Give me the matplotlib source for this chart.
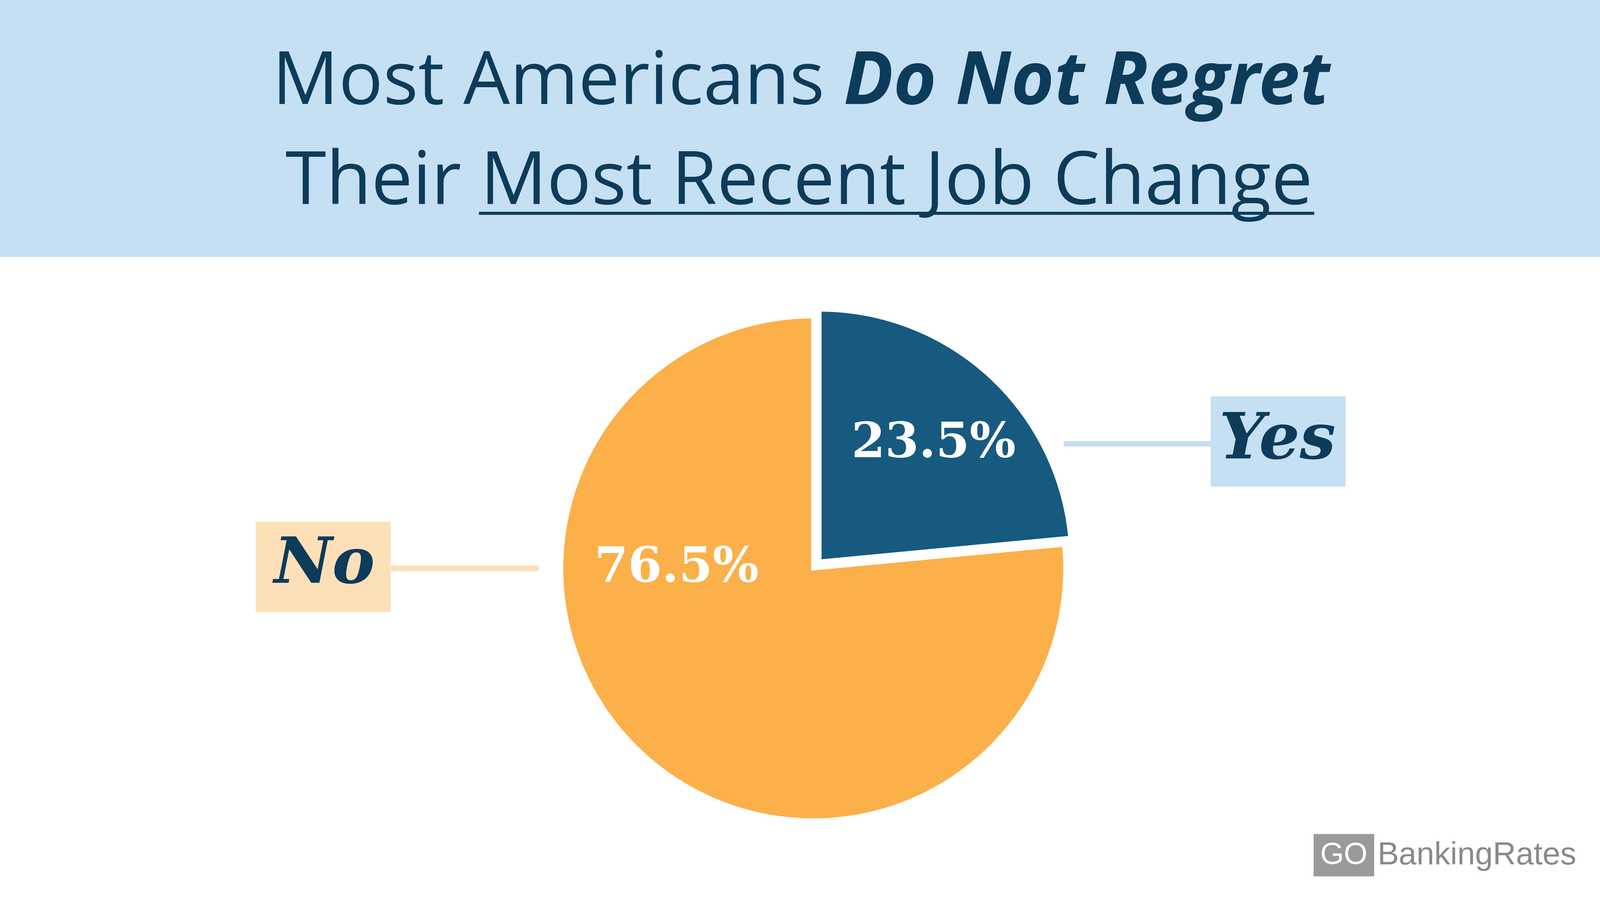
import matplotlib.pyplot as plt
from matplotlib.patches import Rectangle

answers = ["Yes", "No"]
shares = [23.5, 76.5]
share_labels = ["23.5%", "76.5%"]

NAVY = "#0d3b5a"
BLUE = "#175a80"
ORANGE = "#fbb04a"
LIGHT_BLUE = "#c5e0f2"
PEACH = "#fde0b8"
W, H = 1568, 882

fig = plt.figure(figsize=(16, 9), dpi=500)
ax = fig.add_axes([0, 0, 1, 1])
ax.set_xlim(0, W)
ax.set_ylim(0, H)
ax.axis("off")


def Y(y):
    return H - y


# header band
ax.add_patch(Rectangle((0, Y(251)), W, 251, color=LIGHT_BLUE, zorder=0))

fig.canvas.draw()
renderer = fig.canvas.get_renderer()
px = fig.dpi * 16 / W  # display px per data px


def run_line(parts, y, cx):
    texts = []
    for s, style, weight in parts:
        t = ax.text(0, Y(y), s, fontsize=53, family="Open Sans", style=style,
                    weight=weight, color=NAVY, va="baseline")
        texts.append(t)
    widths = [t.get_window_extent(renderer).width / px for t in texts]
    x = cx - sum(widths) / 2
    starts = []
    for t, w in zip(texts, widths):
        t.set_x(x)
        starts.append((x, w))
        x += w
    return starts


run_line([("Most Americans ", "normal", "normal"),
          ("Do Not Regret", "italic", "bold")], 102, 785)
pos = run_line([("Their ", "normal", "normal"),
                ("Most Recent Job Change", "normal", "normal")], 200, 783)
ux, uw = pos[1]
ax.plot([ux, ux + uw], [Y(209), Y(209)], color=NAVY, lw=2.2, zorder=3)

# pie (explode is in data units here, not radius fractions)
wedges, _ = ax.pie(shares, colors=[BLUE, ORANGE], startangle=90, counterclock=False,
                   center=(797, Y(557)), radius=247, explode=[9, 0],
                   wedgeprops=dict(edgecolor="white", linewidth=3), frame=True)
ax.set_xlim(0, W)
ax.set_ylim(0, H)
ax.set_aspect("equal")
ax.axis("off")

ax.text(915, Y(435), share_labels[0], fontsize=35, family="DejaVu Serif", weight="bold",
        color="white", ha="center", va="center")
ax.text(663, Y(557), share_labels[1], fontsize=35, family="DejaVu Serif", weight="bold",
        color="white", ha="center", va="center")

# callouts
ax.plot([1045, 1187], [Y(435), Y(435)], color=LIGHT_BLUE, lw=4)
ax.add_patch(Rectangle((1187, Y(476)), 131, 87, color=LIGHT_BLUE))
ax.text(1252, Y(432), answers[0], fontsize=46, family="DejaVu Serif", weight="bold",
        style="italic", color=NAVY, ha="center", va="center")
ax.plot([382, 525], [Y(557), Y(557)], color=PEACH, lw=4)
ax.add_patch(Rectangle((251, Y(599)), 131, 87, color=PEACH))
ax.text(318, Y(554), answers[1], fontsize=46, family="DejaVu Serif", weight="bold",
        style="italic", color=NAVY, ha="center", va="center")

# logo
ax.add_patch(Rectangle((1288, Y(858)), 58, 40, color="#9a9a9a"))
ax.text(1317, Y(839), "GO", fontsize=22, family="Liberation Sans", color="white",
        ha="center", va="center")
ax.text(1350, Y(839), "BankingRates", fontsize=23, family="Liberation Sans",
        color="#8a8a8a", ha="left", va="center")

fig.savefig("out.png", dpi=500, facecolor="white")
